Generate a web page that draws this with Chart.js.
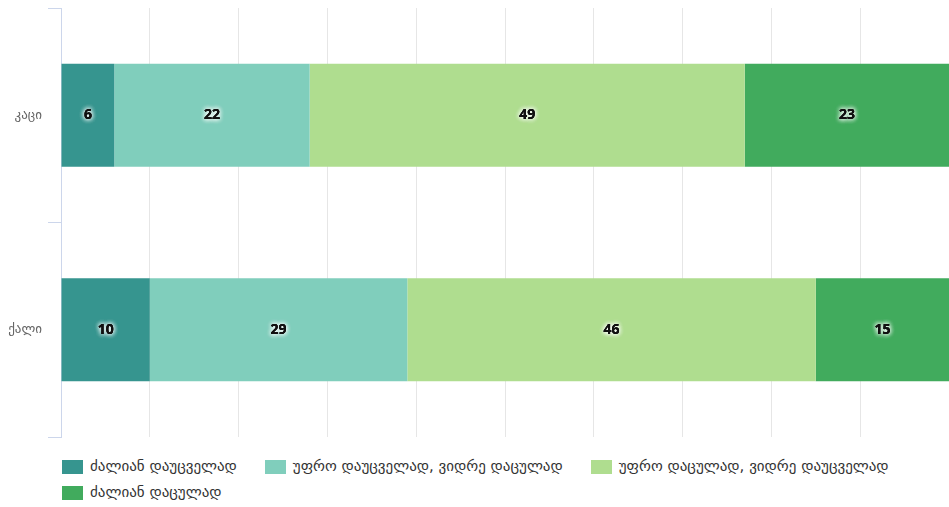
<!DOCTYPE html>
<html>
<head>
<meta charset="utf-8">
<script src="https://cdn.jsdelivr.net/npm/chart.js@4"></script>
<style>
  html, body { margin: 0; padding: 0; background: #fff; overflow: hidden; }
  #wrap { position: relative; width: 949px; height: 440px; }
  #legend {
    position: absolute; left: 62px; top: 459px; width: 870px;
    display: flex; flex-wrap: wrap; column-gap: 28px; row-gap: 11px;
    font-family: "DejaVu Sans", sans-serif; font-size: 15px; color: #333;
  }
  #legend .item { display: flex; align-items: center; line-height: 15px; }
  #legend .box { width: 21px; height: 14px; margin-right: 7px; }
</style>
</head>
<body>
<div id="wrap"><canvas id="chart"></canvas></div>
<div id="legend"></div>
<script>
const categories = ['კაცი', 'ქალი'];
const seriesNames = [
  'ძალიან დაუცველად',
  'უფრო დაუცველად, ვიდრე დაცულად',
  'უფრო დაცულად, ვიდრე დაუცველად',
  'ძალიან დაცულად'
];
const veryUnsafe = [6, 10];
const ratherUnsafe = [22, 29];
const ratherSafe = [49, 46];
const verySafe = [23, 15];
const colors = ['#36958f', '#80cebc', '#afdd8f', '#41ab5d'];

const seriesValues = [veryUnsafe, ratherUnsafe, ratherSafe, verySafe];

// labels in the middle of each segment, with a white glow
const segmentLabels = {
  id: 'segmentLabels',
  afterDatasetsDraw(chart) {
    const ctx = chart.ctx;
    ctx.save();
    ctx.font = 'bold 14px "Open Sans", "DejaVu Sans", sans-serif';
    ctx.textAlign = 'center';
    ctx.textBaseline = 'middle';
    chart.data.datasets.forEach((ds, i) => {
      const meta = chart.getDatasetMeta(i);
      meta.data.forEach((bar, j) => {
        const { x, y, base } = bar.getProps(['x', 'y', 'base'], true);
        const cx = (x + base) / 2;
        const text = String(ds.data[j]);
        ctx.shadowColor = 'rgba(255,255,255,0.95)';
        ctx.shadowBlur = 5;
        ctx.fillStyle = '#000';
        for (let k = 0; k < 3; k++) ctx.fillText(text, cx, y);
        ctx.shadowBlur = 0;
        ctx.fillStyle = '#111';
        ctx.fillText(text, cx, y);
      });
    });
    ctx.restore();
  }
};

new Chart(document.getElementById('chart'), {
  type: 'bar',
  data: {
    labels: categories,
    datasets: seriesValues.map((vals, i) => ({
      label: seriesNames[i],
      data: vals,
      backgroundColor: colors[i],
      borderWidth: 0,
      barPercentage: 1,
      categoryPercentage: 0.48,
    })),
  },
  options: {
    indexAxis: 'y',
    responsive: true,
    maintainAspectRatio: false,
    animation: false,
    layout: { padding: { top: 8, left: 0, right: 0, bottom: 3 } },
    plugins: {
      legend: { display: false },
      tooltip: { enabled: false },
    },
    scales: {
      x: {
        stacked: true,
        min: 0, max: 100,
        ticks: { display: false, stepSize: 10 },
        grid: { color: '#e6e6e6', drawTicks: false },
        border: { display: false },
        afterFit: (scale) => { scale.height = 0; },
      },
      y: {
        stacked: true,
        ticks: {
          color: '#666',
          padding: 6,
          font: { family: '"DejaVu Sans", sans-serif', size: 13 },
        },
        grid: { drawOnChartArea: false, drawTicks: true, tickLength: 13, color: '#ccd6eb' },
        border: { display: true, color: '#ccd6eb' },
        afterFit: (scale) => {
          scale.width = 61;
          scale.paddingTop = 0;
          scale.paddingBottom = 0;
        },
      },
    },
  },
  plugins: [segmentLabels],
});

// legend built from the same series names and colours
const legendEl = document.getElementById('legend');
seriesNames.forEach((name, i) => {
  const item = document.createElement('div');
  item.className = 'item';
  const box = document.createElement('span');
  box.className = 'box';
  box.style.background = colors[i];
  const txt = document.createElement('span');
  txt.textContent = name;
  item.appendChild(box);
  item.appendChild(txt);
  legendEl.appendChild(item);
});
</script>
</body>
</html>
